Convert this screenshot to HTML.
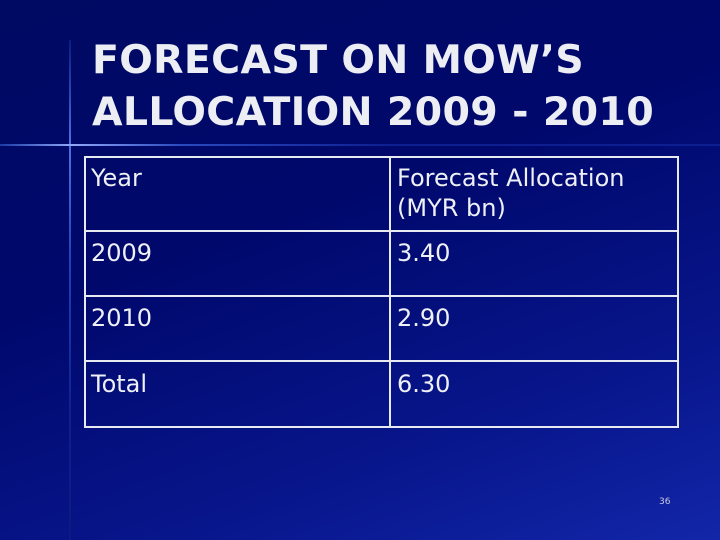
<!DOCTYPE html>
<html><head><meta charset="utf-8"><style>
body{margin:0}
#s{position:relative;width:720px;height:540px;overflow:hidden;
background:linear-gradient(160deg,#000a62 0%,#00086c 40%,#08168c 75%,#1226a8 100%);
font-family:"DejaVu Sans","Liberation Sans",sans-serif;color:#eef0f6}
.v{position:absolute;left:69px;top:40px;width:2px;height:500px;background:linear-gradient(#0a1c80,#5070e8 21%,#2040b8 45%,#10208c 75%,#0a1c80)}
.h{position:absolute;left:0;top:144px;width:720px;height:2px;background:linear-gradient(90deg,#1a3aa8,#8fa8f8 10%,#2a4ac0 25%,#0c1e90 55%,#0c1e90)}
h1{position:absolute;left:92px;top:34px;margin:0;font-size:39.5px;line-height:52px;font-weight:bold;letter-spacing:0.3px;color:#eceef4;white-space:nowrap}
.t{position:absolute;left:84px;top:156px;width:591px;height:268px;border:2px solid #e8eaf2}
.r{position:absolute;left:84px;width:595px;height:2px;background:#e8eaf2}
.c{position:absolute;left:389px;top:156px;width:2px;height:272px;background:#e8eaf2}
.x{position:absolute;font-size:24px;line-height:30px;white-space:nowrap}
.n{position:absolute;left:659px;top:497px;font-size:9px;color:#ccd}
</style></head><body>
<div id="s">
<div class="v"></div>
<div class="h"></div>
<h1>FORECAST ON MOW’S<br>ALLOCATION 2009 - 2010</h1>
<div class="t"></div>
<div class="r" style="top:230px"></div>
<div class="r" style="top:295px"></div>
<div class="r" style="top:360px"></div>
<div class="c"></div>
<div class="x" style="left:91px;top:163px">Year</div>
<div class="x" style="left:397px;top:163px">Forecast Allocation<br>(MYR bn)</div>
<div class="x" style="left:91px;top:238px">2009</div>
<div class="x" style="left:397px;top:238px">3.40</div>
<div class="x" style="left:91px;top:303px">2010</div>
<div class="x" style="left:397px;top:303px">2.90</div>
<div class="x" style="left:91px;top:369px">Total</div>
<div class="x" style="left:397px;top:369px">6.30</div>
<div class="n">36</div>
</div>
</body></html>
